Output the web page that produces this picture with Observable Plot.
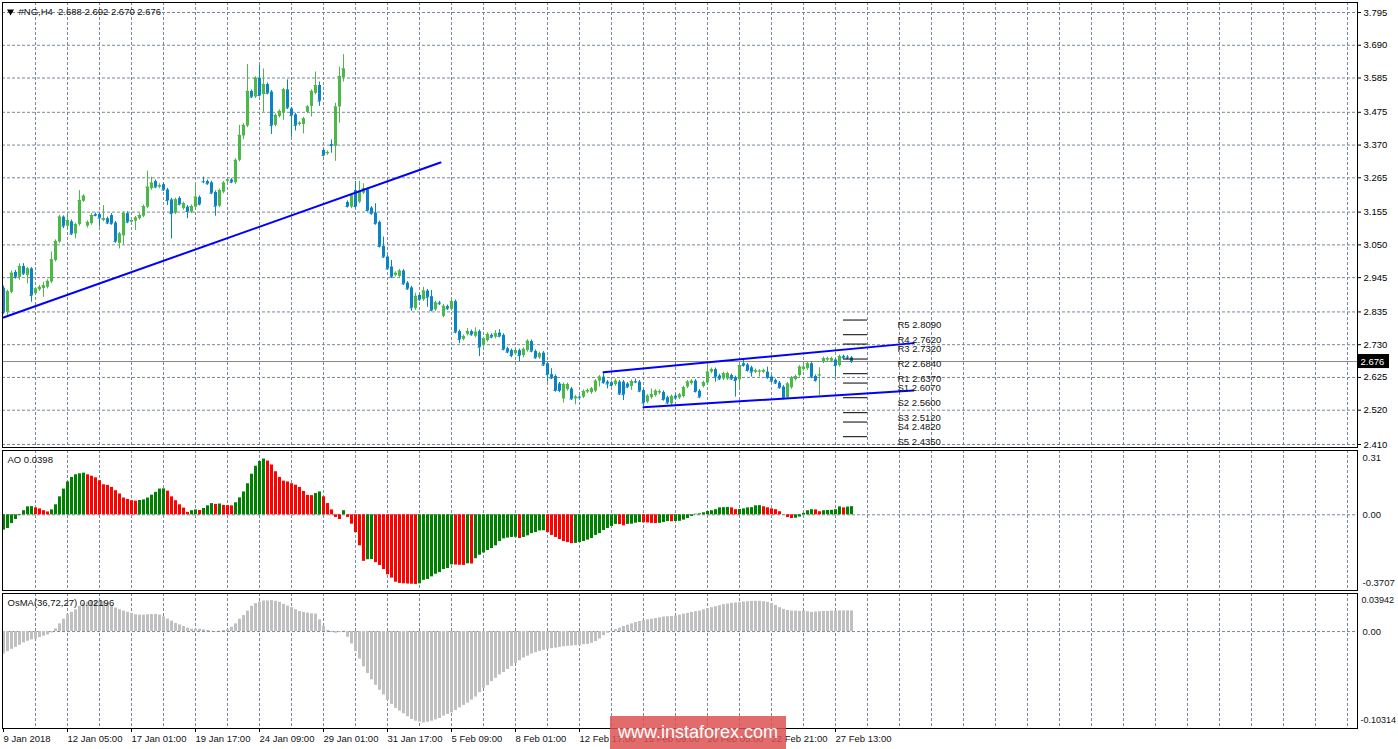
<!DOCTYPE html>
<html><head><meta charset="utf-8">
<script src="https://cdn.jsdelivr.net/npm/d3@7"></script>
<script src="https://cdn.jsdelivr.net/npm/@observablehq/plot@0.6"></script>
<style>
html,body{margin:0;padding:0;background:#fff;}
#chart{position:relative;width:1398px;height:749px;overflow:hidden;background:#fff;font-family:"Liberation Sans",Arial,sans-serif;}
.panel{position:absolute;left:0;}
.panel svg{max-width:none;}
#wm{position:absolute;left:610px;top:716px;width:176px;height:33px;background:rgba(221,80,80,0.84);color:#fff;font:18px "Liberation Sans",Arial,sans-serif;display:flex;align-items:center;justify-content:center;}
</style></head><body>
<div id="chart"></div>
<script>
// ---------------- DATA ----------------
const open = [
2.911,2.834,2.898,2.962,2.946,2.981,2.952,2.973,2.893,2.906,
2.910,2.914,2.931,3.000,3.059,3.139,3.110,3.124,3.085,3.115,
3.190,3.110,3.118,3.147,3.147,3.128,3.134,3.144,3.120,3.055,
3.079,3.150,3.123,3.126,3.134,3.142,3.171,3.230,3.253,3.235,
3.243,3.226,3.194,3.152,3.199,3.166,3.171,3.155,3.171,3.202,
3.253,3.253,3.249,3.218,3.174,3.219,3.254,3.258,3.249,3.321,
3.399,3.431,3.542,3.524,3.584,3.532,3.564,3.540,3.433,3.462,
3.472,3.547,3.486,3.467,3.436,3.436,3.475,3.494,3.536,3.561,
3.353,3.342,3.372,3.366,3.492,3.586,3.186,3.171,3.224,3.187,
3.216,3.227,3.168,3.152,3.122,3.045,3.011,2.979,2.952,2.949,
2.966,2.927,2.912,2.845,2.888,2.874,2.902,2.884,2.842,2.864,
2.821,2.852,2.843,2.868,2.772,2.747,2.763,2.772,2.757,2.772,
2.727,2.743,2.760,2.754,2.767,2.760,2.717,2.711,2.701,2.711,
2.695,2.711,2.740,2.708,2.688,2.703,2.669,2.634,2.628,2.604,
2.556,2.586,2.588,2.556,2.562,2.562,2.578,2.576,2.581,2.613,
2.626,2.610,2.608,2.602,2.610,2.610,2.604,2.596,2.612,2.610,
2.583,2.546,2.560,2.567,2.575,2.577,2.560,2.540,2.565,2.559,
2.564,2.594,2.605,2.613,2.581,2.596,2.607,2.642,2.650,2.630,
2.620,2.620,2.631,2.624,2.617,2.669,2.665,2.656,2.642,2.642,
2.642,2.642,2.626,2.615,2.607,2.594,2.560,2.592,2.618,2.631,
2.650,2.653,2.669,2.628,2.630,2.674,2.681,2.677,2.681,2.663,
2.692,2.690,2.688];
const high = [
2.918,2.905,2.966,2.968,2.989,2.990,2.978,2.977,2.913,2.920,
2.930,2.938,3.027,3.066,3.145,3.143,3.152,3.130,3.120,3.224,
3.211,3.127,3.150,3.152,3.152,3.176,3.139,3.150,3.125,3.090,
3.155,3.156,3.133,3.141,3.150,3.178,3.286,3.267,3.258,3.246,
3.248,3.231,3.199,3.200,3.204,3.187,3.176,3.178,3.248,3.207,
3.267,3.258,3.254,3.223,3.229,3.253,3.263,3.263,3.326,3.433,
3.438,3.628,3.547,3.589,3.625,3.614,3.569,3.545,3.470,3.483,
3.552,3.579,3.491,3.472,3.445,3.459,3.497,3.547,3.604,3.572,
3.358,3.351,3.387,3.504,3.620,3.660,3.191,3.213,3.253,3.254,
3.246,3.232,3.173,3.182,3.127,3.075,3.016,3.000,2.964,2.971,
2.971,2.932,2.917,2.895,2.893,2.914,2.907,2.904,2.869,2.869,
2.859,2.857,2.873,2.873,2.777,2.761,2.782,2.777,2.784,2.777,
2.754,2.768,2.765,2.775,2.778,2.765,2.722,2.716,2.716,2.716,
2.720,2.746,2.745,2.713,2.706,2.708,2.674,2.653,2.633,2.609,
2.607,2.607,2.593,2.567,2.566,2.585,2.588,2.593,2.618,2.631,
2.642,2.615,2.613,2.620,2.615,2.615,2.609,2.617,2.620,2.615,
2.588,2.570,2.588,2.586,2.585,2.582,2.565,2.569,2.570,2.574,
2.597,2.615,2.618,2.618,2.586,2.613,2.666,2.655,2.655,2.635,
2.642,2.642,2.636,2.629,2.668,2.685,2.670,2.661,2.652,2.650,
2.652,2.658,2.631,2.620,2.612,2.599,2.609,2.628,2.633,2.663,
2.663,2.674,2.674,2.633,2.656,2.690,2.690,2.690,2.686,2.697,
2.697,2.695,2.692];
const low = [
2.826,2.824,2.893,2.940,2.936,2.952,2.925,2.866,2.888,2.901,
2.882,2.909,2.926,2.995,3.054,3.102,3.104,3.080,3.069,3.110,
3.186,3.104,3.113,3.140,3.107,3.124,3.115,3.113,3.055,3.037,
3.050,3.118,3.118,3.096,3.129,3.137,3.166,3.225,3.230,3.230,
3.221,3.176,3.069,3.147,3.175,3.161,3.134,3.150,3.166,3.175,
3.246,3.241,3.211,3.142,3.169,3.214,3.249,3.246,3.244,3.316,
3.387,3.426,3.519,3.519,3.524,3.475,3.531,3.404,3.428,3.457,
3.449,3.484,3.395,3.415,3.431,3.406,3.470,3.460,3.531,3.494,
3.332,3.337,3.344,3.318,3.440,3.572,3.168,3.166,3.168,3.182,
3.211,3.155,3.145,3.113,3.040,3.006,2.968,2.942,2.947,2.944,
2.920,2.904,2.837,2.840,2.869,2.869,2.850,2.835,2.837,2.856,
2.816,2.840,2.838,2.765,2.733,2.742,2.758,2.757,2.752,2.692,
2.722,2.738,2.749,2.749,2.752,2.710,2.701,2.688,2.696,2.676,
2.688,2.706,2.704,2.683,2.683,2.660,2.610,2.618,2.578,2.576,
2.543,2.581,2.551,2.537,2.555,2.557,2.573,2.571,2.576,2.594,
2.603,2.588,2.594,2.597,2.567,2.551,2.589,2.583,2.605,2.576,
2.532,2.541,2.555,2.562,2.570,2.549,2.538,2.535,2.554,2.554,
2.559,2.589,2.600,2.575,2.557,2.591,2.602,2.637,2.610,2.615,
2.615,2.615,2.615,2.562,2.588,2.658,2.642,2.626,2.637,2.626,
2.637,2.619,2.608,2.602,2.587,2.553,2.555,2.587,2.613,2.626,
2.645,2.648,2.621,2.610,2.567,2.669,2.676,2.672,2.626,2.658,
2.683,2.682,2.670];
const close = [
2.834,2.900,2.959,2.946,2.981,2.957,2.973,2.888,2.909,2.914,
2.919,2.933,3.002,3.061,3.139,3.110,3.128,3.085,3.115,3.192,
3.206,3.122,3.144,3.144,3.136,3.134,3.120,3.118,3.061,3.085,
3.150,3.123,3.128,3.136,3.144,3.173,3.235,3.248,3.235,3.240,
3.226,3.192,3.150,3.195,3.180,3.182,3.157,3.173,3.203,3.180,
3.252,3.246,3.216,3.174,3.224,3.248,3.258,3.251,3.321,3.401,
3.433,3.542,3.524,3.584,3.529,3.564,3.536,3.433,3.465,3.478,
3.547,3.489,3.465,3.433,3.440,3.454,3.492,3.542,3.561,3.511,
3.337,3.346,3.369,3.492,3.590,3.614,3.173,3.208,3.173,3.219,
3.230,3.160,3.150,3.118,3.045,3.011,2.973,2.947,2.959,2.966,
2.925,2.909,2.848,2.885,2.874,2.902,2.882,2.840,2.864,2.861,
2.853,2.845,2.868,2.770,2.747,2.756,2.772,2.762,2.770,2.722,
2.749,2.763,2.754,2.765,2.757,2.715,2.706,2.695,2.711,2.695,
2.715,2.741,2.709,2.688,2.701,2.665,2.634,2.623,2.583,2.583,
2.602,2.602,2.556,2.562,2.560,2.580,2.583,2.588,2.613,2.626,
2.608,2.604,2.599,2.613,2.572,2.570,2.594,2.612,2.610,2.581,
2.543,2.565,2.570,2.581,2.580,2.554,2.543,2.564,2.559,2.569,
2.592,2.610,2.613,2.580,2.562,2.608,2.642,2.650,2.626,2.620,
2.637,2.637,2.620,2.615,2.663,2.663,2.647,2.642,2.647,2.645,
2.647,2.624,2.613,2.607,2.592,2.558,2.604,2.623,2.628,2.658,
2.658,2.669,2.626,2.615,2.633,2.685,2.685,2.685,2.663,2.692,
2.688,2.687,2.676];
const ao = [
-0.075,-0.067,-0.043,-0.023,-0.004,0.020,0.039,0.040,0.034,0.029,
0.020,0.014,0.024,0.049,0.088,0.126,0.161,0.183,0.196,0.201,
0.204,0.196,0.189,0.181,0.167,0.147,0.144,0.134,0.118,0.102,
0.082,0.075,0.069,0.067,0.070,0.073,0.082,0.096,0.110,0.126,
0.127,0.116,0.088,0.069,0.049,0.033,0.012,0.020,0.024,0.021,
0.031,0.044,0.055,0.051,0.053,0.046,0.045,0.044,0.059,0.083,
0.112,0.152,0.199,0.238,0.261,0.273,0.263,0.244,0.211,0.183,
0.165,0.161,0.152,0.145,0.134,0.114,0.095,0.094,0.104,0.112,
0.088,0.055,0.024,-0.013,-0.023,0.020,-0.013,-0.046,-0.087,-0.152,
-0.228,-0.220,-0.219,-0.234,-0.248,-0.268,-0.294,-0.310,-0.330,-0.336,
-0.338,-0.339,-0.340,-0.341,-0.338,-0.321,-0.317,-0.304,-0.291,-0.283,
-0.268,-0.263,-0.245,-0.246,-0.247,-0.248,-0.240,-0.241,-0.215,-0.198,
-0.187,-0.175,-0.165,-0.152,-0.131,-0.118,-0.114,-0.111,-0.110,-0.116,
-0.111,-0.103,-0.092,-0.087,-0.079,-0.078,-0.087,-0.101,-0.111,-0.121,
-0.131,-0.136,-0.141,-0.140,-0.136,-0.131,-0.124,-0.116,-0.101,-0.092,
-0.077,-0.067,-0.057,-0.047,-0.048,-0.054,-0.047,-0.046,-0.041,-0.038,
-0.039,-0.040,-0.042,-0.043,-0.042,-0.038,-0.033,-0.034,-0.033,-0.032,
-0.026,-0.018,-0.008,0.003,0.005,0.010,0.016,0.020,0.025,0.034,
0.035,0.036,0.034,0.025,0.026,0.029,0.034,0.035,0.044,0.045,
0.039,0.034,0.029,0.025,0.015,-0.001,-0.013,-0.018,-0.017,-0.011,
0.007,0.020,0.025,0.024,0.015,0.020,0.021,0.022,0.025,0.039,
0.034,0.038,0.0398];
const osma = [
-0.0239,-0.0214,-0.0189,-0.0168,-0.0146,-0.0121,-0.0104,-0.0089,-0.0082,-0.0064,
-0.0050,-0.0036,-0.0014,0.0029,0.0082,0.0132,0.0179,0.0204,0.0232,0.0268,
0.0297,0.0314,0.0325,0.0329,0.0325,0.0322,0.0304,0.0279,0.0250,0.0232,
0.0218,0.0204,0.0193,0.0179,0.0175,0.0175,0.0179,0.0182,0.0182,0.0175,
0.0157,0.0132,0.0111,0.0086,0.0071,0.0054,0.0036,0.0025,0.0025,0.0025,
0.0018,0.0011,0.0004,-0.0004,0.0004,0.0011,0.0021,0.0046,0.0082,0.0132,
0.0171,0.0218,0.0268,0.0297,0.0314,0.0325,0.0325,0.0329,0.0322,0.0311,
0.0289,0.0272,0.0254,0.0232,0.0214,0.0204,0.0196,0.0189,0.0186,0.0125,
0.0057,0.0011,-0.0011,-0.0018,-0.0011,0.0004,-0.0061,-0.0132,-0.0214,-0.0293,
-0.0375,-0.0447,-0.0514,-0.0572,-0.0625,-0.0675,-0.0729,-0.0775,-0.0818,-0.0847,
-0.0875,-0.0907,-0.0936,-0.0954,-0.0965,-0.0972,-0.0965,-0.0954,-0.0940,-0.0925,
-0.0900,-0.0882,-0.0865,-0.0840,-0.0811,-0.0786,-0.0761,-0.0729,-0.0697,-0.0650,
-0.0604,-0.0575,-0.0532,-0.0497,-0.0461,-0.0436,-0.0404,-0.0372,-0.0339,-0.0311,
-0.0282,-0.0261,-0.0239,-0.0225,-0.0211,-0.0200,-0.0189,-0.0182,-0.0175,-0.0168,
-0.0161,-0.0157,-0.0154,-0.0150,-0.0146,-0.0139,-0.0136,-0.0125,-0.0107,-0.0079,
-0.0043,-0.0018,0.0002,0.0021,0.0036,0.0054,0.0068,0.0082,0.0096,0.0107,
0.0114,0.0125,0.0132,0.0139,0.0146,0.0154,0.0157,0.0161,0.0164,0.0175,
0.0186,0.0193,0.0204,0.0211,0.0218,0.0232,0.0243,0.0254,0.0264,0.0275,
0.0286,0.0293,0.0300,0.0304,0.0307,0.0314,0.0318,0.0322,0.0322,0.0322,
0.0318,0.0311,0.0297,0.0279,0.0254,0.0236,0.0225,0.0218,0.0218,0.0214,
0.0218,0.0211,0.0204,0.0207,0.0211,0.0214,0.0214,0.0218,0.0218,0.0220,
0.0220,0.0220,0.02196];

const priceTicks = [3.795,3.690,3.585,3.475,3.370,3.265,3.155,3.050,2.945,2.835,2.730,2.625,2.520,2.410];
const timeBars = [0,16,32,48,64,80,96,112,128,144,160,176,192,208];
const timeLabels = ["9 Jan 2018","12 Jan 05:00","17 Jan 01:00","19 Jan 17:00","24 Jan 09:00","29 Jan 01:00","31 Jan 17:00","5 Feb 09:00","8 Feb 01:00","12 Feb 17:00","15 Feb 09:00","20 Feb 05:00","22 Feb 21:00","27 Feb 13:00"];
const pivotNames = ["R5","R4","R3","R2","R1","S1","S2","S3","S4","S5"];
const pivotValues = [2.8090,2.7620,2.7320,2.6840,2.6370,2.6070,2.5600,2.5120,2.4820,2.4350];
const pivotBars = [210, 216];
const pivotLabelBar = 223.5;
const trendBars = [[0,109.25],[150,227.5],[160,227.5]];
const trendPrices = [[2.817,3.314],[2.642,2.735],[2.5295,2.583]];
const aoRange = [-0.3707, 0.31];
const osmaRange = [-0.10314, 0.03942];
const symbol = "#NG,H4";

// ---------------- BUILD ----------------
const BULL = "#4cb847", BEAR = "#0b84c6", GRID = "#778899";
const AO_UP = "#008000", AO_DN = "#ff0000", OSMA_C = "#c0c0c0";
const FONT = "Liberation Sans, Arial, sans-serif";
const FS = 9.5;
const W = 1398;
const xDom = [-0.75, 338.25];
const xRange = [0, 1356];
const gridBars = d3.range(8, 337, 8);
const last = close.length - 1;
const f3 = d3.format(".3f");

const candles = open.map((o, k) => ({i: k, o, h: high[k], l: low[k], c: close[k]}));
const candleColor = d => d.c >= d.o ? BULL : BEAR;
const aoData = ao.map((v, k) => ({i: k, v, up: k === 0 || v >= ao[k - 1]}));
const osmaData = osma.map((v, k) => ({i: k, v}));
const pivots = pivotNames.map((n, k) => ({name: n, v: pivotValues[k]}));
const trendPts = trendBars.flatMap((b, k) => b.map((bar, j) => ({line: k, bar, p: trendPrices[k][j]})));
const timeData = timeBars.map((b, k) => ({bar: b, label: timeLabels[k]}));

const baseStyle = {fontFamily: FONT, fontSize: FS + "px", color: "black", background: "transparent", overflow: "visible"};

const header = `${symbol}\u00a0\u00a0${f3(open[last])} ${f3(high[last])} ${f3(low[last])} ${f3(close[last])}`;

const main = Plot.plot({
  width: W, height: 448,
  marginLeft: 2, marginRight: 41, marginTop: 2, marginBottom: 1,
  style: baseStyle,
  x: {type: "linear", domain: xDom, range: xRange, axis: null},
  y: {type: "linear", domain: [2.410, 3.795], range: [444, 12], label: null},
  marks: [
    Plot.ruleY(priceTicks, {stroke: GRID, strokeDasharray: "3,2"}),
    Plot.ruleX(gridBars, {stroke: GRID, strokeDasharray: "3,2"}),
    Plot.ruleY([close[last]], {stroke: "#8a8a8a"}),
    Plot.ruleX(candles, {x: "i", y1: "l", y2: "h", stroke: candleColor, strokeWidth: 1}),
    Plot.ruleX(candles, {x: "i", y1: "o", y2: "c", stroke: candleColor, strokeWidth: 3}),
    Plot.ruleY(candles, {y: "c", x1: d => d.i - 0.375, x2: d => d.i + 0.375, stroke: candleColor}),
    Plot.line(trendPts, {x: "bar", y: "p", z: "line", stroke: "#0000ff", strokeWidth: 2}),
    Plot.ruleY(pivots, {y: "v", x1: () => pivotBars[0], x2: () => pivotBars[1], stroke: "black"}),
    Plot.text(pivots, {x: () => pivotLabelBar, y: "v", text: d => `${d.name} ${d.v.toFixed(4)}`, dy: 5, textAnchor: "start", lineAnchor: "middle", fontSize: FS, fill: "#111"}),
    Plot.axisY({anchor: "right", ticks: priceTicks, tickFormat: f3, tickSize: 3, tickPadding: 3, fontSize: FS, label: null}),
    Plot.rect([close[last]], {x1: () => xDom[1] + 0.5, x2: () => xDom[1] + 8.25, y1: d => d - 0.0225, y2: d => d + 0.0225, fill: "black"}),
    Plot.text([close[last]], {x: () => xDom[1] + 1, y: d => d, text: d => f3(d), fill: "white", dx: 0, textAnchor: "start", lineAnchor: "middle", fontSize: FS}),
    Plot.dot([0], {frameAnchor: "top-left", dx: 8, dy: 9, symbol: "triangle", r: 2.6, fill: "black", stroke: "none", rotate: 180}),
    Plot.text([header], {frameAnchor: "top-left", dx: 16, dy: 9, textAnchor: "start", lineAnchor: "middle", fontSize: FS, fill: "#111"}),
    Plot.frame({stroke: "black"})
  ]
});

const aoPlot = Plot.plot({
  width: W, height: 144,
  marginLeft: 2, marginRight: 41, marginTop: 2, marginBottom: 2,
  style: baseStyle,
  x: {type: "linear", domain: xDom, range: xRange, axis: null},
  y: {type: "linear", domain: aoRange, range: [142, 3], axis: null},
  marks: [
    Plot.ruleX(gridBars, {stroke: GRID, strokeDasharray: "3,2"}),
    Plot.ruleY([0], {stroke: GRID, strokeDasharray: "3,2"}),
    Plot.ruleX(aoData, {x: "i", y1: 0, y2: "v", stroke: d => d.up ? AO_UP : AO_DN, strokeWidth: 3}),
    Plot.text([aoRange[1].toFixed(2)], {frameAnchor: "top-right", dx: 5, dy: 7, textAnchor: "start", lineAnchor: "middle", fontSize: FS, fill: "#111"}),
    Plot.text([0], {y: d => d, text: d => d.toFixed(2), frameAnchor: "right", dx: 5, textAnchor: "start", lineAnchor: "middle", fontSize: FS, fill: "#111"}),
    Plot.text([String(aoRange[0])], {frameAnchor: "bottom-right", dx: 5, dy: -8, textAnchor: "start", lineAnchor: "middle", fontSize: FS, fill: "#111"}),
    Plot.text([`AO ${ao[last].toFixed(4)}`], {frameAnchor: "top-left", dx: 5, dy: 9, textAnchor: "start", lineAnchor: "middle", fontSize: FS, fill: "#111"}),
    Plot.frame({stroke: "black"})
  ]
});

const osmaPlot = Plot.plot({
  width: W, height: 157,
  marginLeft: 2, marginRight: 41, marginTop: 1, marginBottom: 21,
  style: baseStyle,
  x: {type: "linear", domain: xDom, range: xRange, label: null},
  y: {type: "linear", domain: osmaRange, range: [136, 2], axis: null},
  marks: [
    Plot.ruleX(gridBars, {stroke: GRID, strokeDasharray: "3,2"}),
    Plot.ruleY([0], {stroke: GRID, strokeDasharray: "3,2"}),
    Plot.ruleX(osmaData, {x: "i", y1: 0, y2: "v", stroke: OSMA_C, strokeWidth: 3}),
    Plot.text([String(osmaRange[1])], {frameAnchor: "top-right", dx: 4, dy: 7, textAnchor: "start", lineAnchor: "middle", fontSize: 9, fill: "#111"}),
    Plot.text([0], {y: d => d, text: d => d.toFixed(2), frameAnchor: "right", dx: 5, textAnchor: "start", lineAnchor: "middle", fontSize: FS, fill: "#111"}),
    Plot.text([String(osmaRange[0])], {frameAnchor: "bottom-right", dx: 3, dy: -8, textAnchor: "start", lineAnchor: "middle", fontSize: 9, fill: "#111"}),
    Plot.text([`OsMA(36,72,27) ${osma[last].toFixed(5)}`], {frameAnchor: "top-left", dx: 5, dy: 9, textAnchor: "start", lineAnchor: "middle", fontSize: FS, fill: "#111"}),
    Plot.axisX({ticks: timeBars, tickSize: 4, tickFormat: () => "", label: null}),
    Plot.text(timeData, {x: "bar", text: "label", frameAnchor: "bottom", dy: 10, textAnchor: "start", lineAnchor: "middle", fontSize: FS, fill: "#111"}),
    Plot.frame({stroke: "black"})
  ]
});

const chart = document.getElementById("chart");
[[main, 0], [aoPlot, 448], [osmaPlot, 592]].forEach(([el, top]) => {
  const d = document.createElement("div");
  d.className = "panel";
  d.style.top = top + "px";
  d.appendChild(el);
  chart.appendChild(d);
});
const wm = document.createElement("div");
wm.id = "wm";
wm.textContent = "www.instaforex.com";
chart.appendChild(wm);
</script></body></html>
